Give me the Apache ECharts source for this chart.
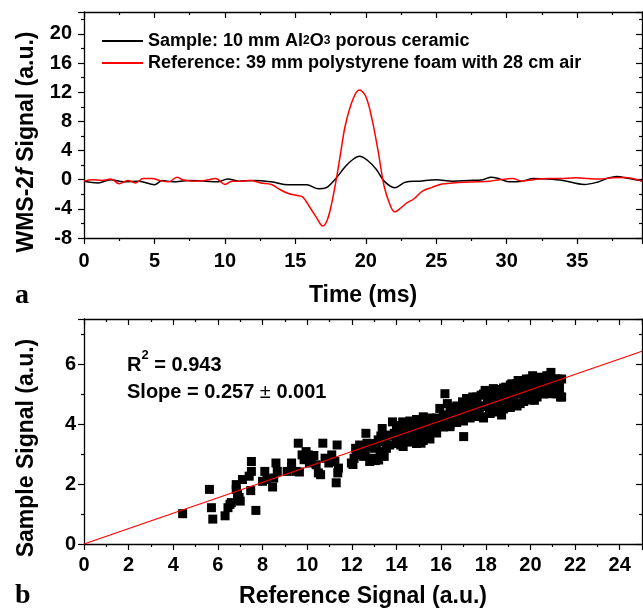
<!DOCTYPE html>
<html><head><meta charset="utf-8">
<script src="https://cdn.jsdelivr.net/npm/echarts@6/dist/echarts.min.js"></script>
<style>html,body{margin:0;padding:0;background:#fff}#c{width:643px;height:615px}</style>
</head><body><div id="c"></div>
<script>
// ---------- Panel a: WMS-2f signals vs time ----------
const sampleName = 'Sample: 10 mm Al2O3 porous ceramic';
const refName = 'Reference: 39 mm polystyrene foam with 28 cm air';
const sampleTime   = [0, 1.0, 1.9, 2.8, 3.9, 5.0, 5.55, 6.3, 7.45, 8.6, 9.5, 10.2, 11.0, 12.1, 13.3, 14.5, 15.8, 16.65, 17.2, 17.8, 18.55, 19.1, 19.55, 20.15, 20.75, 21.3, 22.05, 22.8, 23.8, 25.0, 26.15, 27.3, 28.3, 28.9, 29.5, 30.2, 31.1, 31.9, 32.9, 34.0, 35.5, 36.4, 37.1, 37.8, 38.7, 39.6];
const sampleSignal = [-0.23, -0.45, 0, -0.27, -0.2, -0.7, -0.1, -0.3, -0.1, -0.2, -0.3, 0.1, -0.2, -0.1, -0.3, -0.7, -0.7, -1.25, -1.1, 0, 1.8, 2.8, 3.2, 2.6, 1.4, -0.2, -1.1, -0.35, -0.2, 0, -0.2, -0.1, 0, 0.35, 0.1, -0.3, -0.2, 0.15, 0.1, -0.1, -0.65, -0.35, 0.15, 0.45, 0.15, -0.15];
const refTime   = [0, 0.6, 1.3, 1.9, 2.5, 3.1, 3.65, 4.2, 4.8, 5.55, 6.0, 6.6, 7.0, 7.75, 8.6, 9.35, 10.0, 10.5, 11.25, 11.8, 12.55, 13.3, 13.9, 14.5, 15.05, 15.5, 16.05, 16.5, 16.95, 17.25, 17.55, 17.9, 18.2, 18.55, 19.1, 19.55, 20.0, 20.45, 20.9, 21.3, 21.75, 22.05, 22.5, 22.9, 23.4, 24.0, 24.7, 25.4, 26.15, 27.0, 27.9, 28.8, 29.5, 30.4, 31.1, 31.9, 32.9, 33.75, 34.9, 35.8, 36.6, 37.5, 38.4, 39.6];
const refSignal = [-0.2, 0, -0.1, 0.1, -0.55, -0.1, -0.45, 0.15, 0.15, -0.2, -0.3, 0.35, 0, -0.2, -0.1, 0.15, -0.65, -0.2, -0.2, -0.1, -0.45, -0.65, -1.35, -1.9, -2.15, -2.35, -3.85, -5.2, -6.35, -5.6, -3.5, 0, 3.5, 7.5, 11.1, 12.3, 11.4, 8.2, 3.6, -0.9, -3.6, -4.4, -3.85, -3.2, -2.65, -1.6, -1.05, -0.6, -0.45, -0.35, -0.3, -0.2, 0, 0.15, -0.2, 0, 0.15, 0.15, 0.25, 0.15, 0.1, 0.25, 0.3, -0.2];
const timeTicks = [0, 5, 10, 15, 20, 25, 30, 35];
const wmsTicks = [-8, -4, 0, 4, 8, 12, 16, 20];

// ---------- Panel b: sample vs reference scatter ----------
const refScatter = [4.42, 5.62, 5.71, 5.77, 6.32, 6.45, 6.54, 6.6, 6.82, 6.82, 6.88, 6.9, 7.0, 7.1, 7.4, 7.5, 7.5, 7.47, 7.7, 8.0, 8.1, 8.45, 8.5, 8.6, 8.66, 9.1, 9.3, 9.5, 9.6, 9.77, 9.86, 9.95, 10.05, 10.2, 10.4, 10.5, 10.6, 10.7, 10.8, 10.97, 11.1, 11.24, 11.34, 11.3, 11.37, 11.4, 9.3, 9.65, 10.1, 10.3, 6.95, 8.2,
  11.98, 12.1, 12.17, 12.26, 12.35, 12.53, 12.63, 12.68, 12.8, 12.9, 13.0, 13.18, 13.27, 13.36, 13.45, 13.55, 13.64, 12.05, 12.2, 12.4, 12.6, 12.75, 12.85, 13.05, 13.1, 13.3, 13.5, 13.7, 13.2,
  13.82, 13.9, 14.0, 14.1, 14.19, 14.28, 14.38, 14.47, 14.56, 14.65, 14.75, 14.84, 14.93, 15.02, 15.1, 15.2, 15.3, 15.39, 15.48, 15.57, 15.67, 15.76, 15.85, 15.94, 16.04, 16.17, 16.28, 16.35, 16.4, 16.5, 16.59, 16.68, 16.77, 16.87, 16.96, 17.01, 17.05, 17.14, 17.24, 17.33, 17.42, 17.51, 17.6, 17.7, 17.79, 17.88, 17.97, 18.07, 18.16, 18.25, 18.34, 18.43, 18.53, 18.62, 18.71, 18.8, 18.9, 18.99, 19.08, 19.17, 19.26, 19.36, 19.45, 19.54, 19.63, 19.72, 19.82, 19.91, 20.0, 20.1, 20.18, 20.28, 20.37, 20.46, 20.55, 20.65, 20.74, 20.83, 20.92, 21.0, 21.1, 21.2, 21.3, 21.35,
  14.0, 14.0, 14.3, 14.3, 14.6, 14.6, 14.9, 14.9, 15.2, 15.2, 15.5, 15.5, 15.8, 15.8, 16.1, 16.1, 16.4, 16.4, 16.7, 16.7, 17.0, 17.0, 17.3, 17.3, 17.6, 17.6, 17.9, 17.9, 18.2, 18.2, 18.5, 18.5, 18.8, 18.8, 19.1, 19.1, 19.4, 19.4, 19.7, 19.7, 20.0, 20.0, 20.3, 20.3, 20.6, 20.6, 20.9, 20.9, 21.2, 21.2,
  14.2, 14.8, 15.4, 16.0, 16.6, 17.2, 17.8, 18.4, 19.0, 19.6, 20.2, 20.8, 21.3, 21.4, 21.4,
  12.3, 12.9, 13.4, 13.9, 14.45, 15.0, 15.65, 16.25, 16.85, 17.45, 18.05, 18.65, 19.25, 19.85, 20.45, 21.05,
  14.15, 14.4, 14.7, 15.05, 15.35, 15.6, 15.9, 16.2, 16.55, 16.8, 17.1, 17.4, 17.7, 18.0, 18.3, 18.6, 18.95, 19.2, 19.5, 19.8, 20.1, 20.4, 20.7, 21.0, 21.25,
  14.1, 14.55, 15.15, 15.75, 16.3, 16.9, 17.5, 18.1, 18.7, 19.3, 19.9, 20.5, 21.1];
const sampleScatter = [1.01, 1.82, 1.21, 0.83, 0.94, 1.21, 1.32, 1.38, 1.98, 1.82, 1.65, 1.49, 1.43, 2.15, 2.26, 2.42, 2.75, 1.78, 1.12, 2.09, 2.42, 1.9, 2.2, 2.7, 2.42, 2.42, 2.7, 2.42, 3.36, 2.97, 2.81, 3.08, 2.97, 2.81, 2.64, 2.37, 2.31, 3.36, 2.86, 2.7, 2.97, 2.75, 3.3, 2.04, 2.37, 2.53, 2.55, 2.4, 2.7, 2.95, 1.55, 2.15,
  2.7, 2.86, 3.19, 2.97, 3.3, 2.92, 3.69, 3.36, 2.75, 2.86, 3.19, 3.47, 3.08, 3.85, 2.92, 3.19, 3.63, 2.65, 3.05, 3.1, 3.05, 3.25, 3.35, 2.78, 3.3, 3.6, 3.4, 3.3, 2.8,
  4.07, 3.69, 3.47, 3.85, 3.3, 4.07, 3.58, 3.91, 3.41, 3.74, 4.02, 3.47, 3.63, 3.96, 3.36, 4.24, 3.8, 3.52, 3.63, 4.02, 3.74, 4.18, 3.96, 4.52, 4.18, 5.01, 4.68, 4.3, 3.91, 4.4, 4.52, 4.13, 4.57, 4.24, 4.74, 3.58, 4.46, 4.85, 4.3, 4.63, 4.9, 4.4, 4.74, 4.52, 4.96, 4.24, 5.12, 4.68, 4.46, 4.96, 5.18, 4.74, 4.57, 5.07, 4.3, 4.85, 5.23, 4.63, 5.01, 5.34, 4.79, 5.12, 5.45, 4.68, 5.18, 4.96, 5.5, 5.07, 5.34, 5.61, 4.79, 5.23, 5.56, 5.07, 5.45, 5.18, 5.61, 5.01, 5.72, 5.29, 5.07, 5.45, 5.18, 4.9,
  3.95, 3.35, 4.05, 3.25, 4.1, 3.4, 4.15, 3.35, 4.1, 3.45, 4.2, 3.5, 4.2, 3.7, 4.3, 3.9, 4.55, 4.0, 4.6, 4.05, 4.7, 4.1, 4.8, 4.2, 4.9, 4.25, 5.0, 4.2, 5.05, 4.35, 5.15, 4.4, 5.2, 4.5, 5.3, 4.55, 5.35, 4.6, 5.45, 4.75, 5.5, 4.8, 5.55, 4.9, 5.55, 5.0, 5.6, 5.05, 5.5, 5.0,
  3.65, 3.8, 3.9, 4.1, 4.3, 4.45, 4.6, 4.75, 4.9, 5.05, 5.2, 5.35, 5.3, 4.9, 5.5,
  3.15, 3.3, 3.5, 3.6, 3.75, 3.85, 3.95, 4.2, 4.35, 4.5, 4.6, 4.8, 4.95, 5.1, 5.3, 5.4,
  3.55, 3.6, 3.7, 3.75, 3.85, 3.9, 4.0, 4.05, 4.2, 4.3, 4.35, 4.45, 4.55, 4.6, 4.7, 4.8, 4.85, 4.95, 5.0, 5.1, 5.15, 5.25, 5.3, 5.35, 5.3,
  3.85, 3.95, 4.0, 4.05, 4.15, 4.35, 4.65, 4.85, 5.0, 5.15, 5.35, 5.4, 5.5];
const fitSlope = 0.257;
const fitR2 = 0.943;
const fitRange = [0, 25];
const refTicks = [0, 2, 4, 6, 8, 10, 12, 14, 16, 18, 20, 22, 24];
const sampleTicks = [0, 2, 4, 6];

// ---------- build ----------
const FONT = '"Liberation Sans", Arial, Helvetica, sans-serif';
const zip = (a, b) => a.map((v, i) => [v, b[i]]);

function axis(base, opts) {
  return Object.assign({
    type: 'value',
    splitLine: { show: false },
    axisLine: { show: true, onZero: false, lineStyle: { color: '#000', width: 1.3 } },
    axisTick: { show: true, inside: false, length: 6, lineStyle: { color: '#000', width: 1.2 } },
    minorTick: { show: true, splitNumber: 2, length: 3, lineStyle: { color: '#000', width: 1.2 } },
    axisLabel: { show: true, color: '#000', fontFamily: FONT, fontWeight: 'bold', fontSize: 20, showMaxLabel: false },
    nameTextStyle: { color: '#000', fontFamily: FONT, fontWeight: 'bold', fontSize: 23 }
  }, base, opts || {});
}
function mirror(base) {
  const a = axis(base);
  a.axisLabel = { show: false };
  a.axisTick = Object.assign({}, a.axisTick, { inside: true });
  a.minorTick = Object.assign({}, a.minorTick);
  a.name = '';
  return a;
}

const xTimeBase = { gridIndex: 0, min: 0, max: 39.6, interval: timeTicks[1] - timeTicks[0] };
const yWmsBase = { gridIndex: 0, min: wmsTicks[0], max: 23, interval: wmsTicks[1] - wmsTicks[0] };
const xRefBase = { gridIndex: 1, min: 0, max: 25, interval: refTicks[1] - refTicks[0] };
const ySamBase = { gridIndex: 1, min: 0, max: 7.5, interval: sampleTicks[1] - sampleTicks[0] };

const xAxes = [
  axis(xTimeBase, { position: 'bottom', name: 'Time (ms)', nameLocation: 'middle', nameGap: 46,
    axisLabel: Object.assign({}, axis({}).axisLabel, { margin: 13 }) }),
  Object.assign(mirror(xTimeBase), { position: 'top' }),
  axis(xRefBase, { position: 'bottom', name: 'Reference Signal (a.u.)', nameLocation: 'middle', nameGap: 41,
    axisLabel: Object.assign({}, axis({}).axisLabel, { margin: 11 }) }),
  Object.assign(mirror(xRefBase), { position: 'top' })
];
const yAxes = [
  axis(yWmsBase, { position: 'left', axisLabel: Object.assign({}, axis({}).axisLabel, { margin: 12 }) }),
  Object.assign(mirror(yWmsBase), { position: 'right' }),
  axis(ySamBase, { position: 'left', axisLabel: Object.assign({}, axis({}).axisLabel, { margin: 8 }) }),
  Object.assign(mirror(ySamBase), { position: 'right' })
];

const chart = echarts.init(document.getElementById('c'), null, { renderer: 'canvas' });
chart.setOption({
  animation: false,
  backgroundColor: '#fff',
  textStyle: { fontFamily: FONT },
  grid: [
    { left: 84, top: 12, width: 558, height: 226, containLabel: false },
    { left: 84, top: 319, width: 558, height: 225, containLabel: false }
  ],
  xAxis: xAxes,
  yAxis: yAxes,
  legend: {
    show: true,
    orient: 'vertical', left: 97, top: 27, itemWidth: 41, itemHeight: 2, itemGap: 4, icon: 'rect',
    data: [{ name: sampleName }, { name: refName }],
    formatter: function (n) { return n === sampleName ? 'Sample: 10 mm Al{s|2}O{s|3} porous ceramic' : n; },
    textStyle: { color: '#000', fontFamily: FONT, fontWeight: 'bold', fontSize: 18,
      rich: { s: { fontFamily: FONT, fontWeight: 'bold', fontSize: 12, color: '#000' } } }
  },
  graphic: [
    { type: 'text', x: 27, y: 142, rotation: Math.PI / 2,
      style: { text: 'WMS-2{i|f} Signal (a.u.)', fill: '#000', font: 'bold 23px ' + FONT, align: 'center', verticalAlign: 'middle',
        rich: { i: { fontFamily: FONT, fontWeight: 'bold', fontStyle: 'italic', fontSize: 23 } } } },
    { type: 'text', x: 27, y: 448, rotation: Math.PI / 2,
      style: { text: 'Sample Signal (a.u.)', fill: '#000', font: 'bold 23px ' + FONT, align: 'center', verticalAlign: 'middle' } },
    { type: 'text', x: 15, y: 296,
      style: { text: 'a', fill: '#000', font: 'bold 28px "Liberation Serif", "Times New Roman", serif', align: 'left', verticalAlign: 'middle' } },
    { type: 'text', x: 15, y: 596,
      style: { text: 'b', fill: '#000', font: 'bold 28px "Liberation Serif", "Times New Roman", serif', align: 'left', verticalAlign: 'middle' } },
    { type: 'text', x: 127, y: 362,
      style: { text: '{n|R}{sup|2}{n| = ' + fitR2.toFixed(3) + '}', fill: '#000', align: 'left', verticalAlign: 'middle',
        rich: { n: { fontFamily: FONT, fontWeight: 'bold', fontSize: 20, lineHeight: 26, verticalAlign: 'bottom' },
                sup: { fontFamily: FONT, fontWeight: 'bold', fontSize: 13, lineHeight: 26, verticalAlign: 'top' } } } },
    { type: 'text', x: 127, y: 392,
      style: { text: '{n|Slope = ' + fitSlope.toFixed(3) + ' }{pm|\u00B1}{n| 0.001}', fill: '#000', align: 'left', verticalAlign: 'middle',
        rich: { n: { fontFamily: FONT, fontWeight: 'bold', fontSize: 20 }, pm: { fontFamily: FONT, fontWeight: 'normal', fontSize: 20 } } } }
  ],
  series: [
    { name: sampleName, type: 'line', xAxisIndex: 0, yAxisIndex: 0, data: zip(sampleTime, sampleSignal),
      symbol: 'none', smooth: 0.35, lineStyle: { color: '#000', width: 1.5 }, itemStyle: { color: '#000' } },
    { name: refName, type: 'line', xAxisIndex: 0, yAxisIndex: 0, data: zip(refTime, refSignal),
      symbol: 'none', smooth: 0.35, lineStyle: { color: '#ff0000', width: 1.5 }, itemStyle: { color: '#ff0000' } },
    { name: 'scatter', type: 'scatter', xAxisIndex: 2, yAxisIndex: 2, data: zip(refScatter, sampleScatter),
      symbol: 'rect', symbolSize: 9, itemStyle: { color: '#000', opacity: 1 } },
    { name: 'fit', type: 'line', xAxisIndex: 2, yAxisIndex: 2, data: fitRange.map(x => [x, fitSlope * x]),
      symbol: 'none', lineStyle: { color: '#ff0000', width: 1.3 }, z: 5 }
  ]
});
</script>
</body></html>
